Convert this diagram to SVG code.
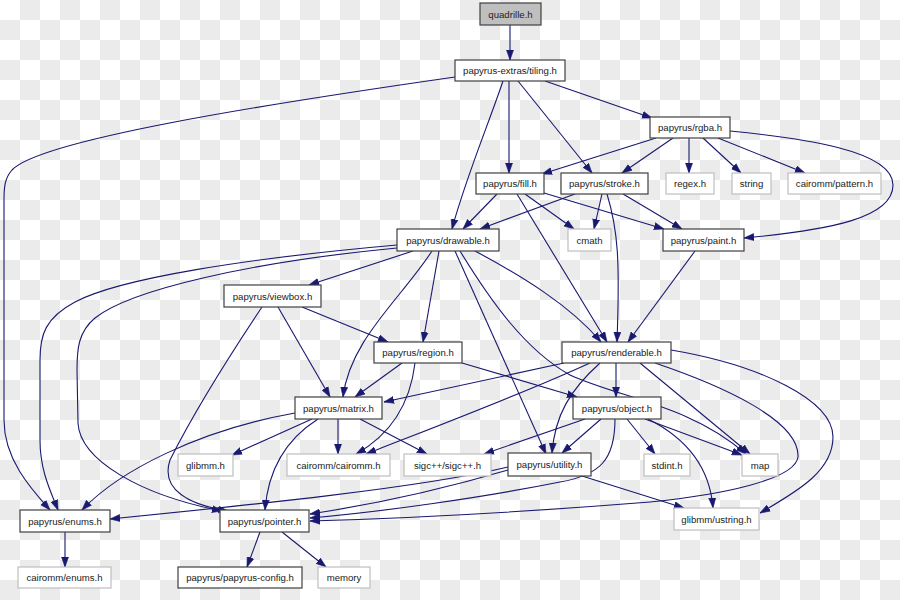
<svg xmlns="http://www.w3.org/2000/svg" width="900" height="600" viewBox="0 0 900 600">
<defs>
<pattern id="cb" width="40" height="40" patternUnits="userSpaceOnUse"><rect width="40" height="40" fill="#fff"/><rect x="20" y="0" width="20" height="20" fill="#ebebeb"/><rect x="0" y="20" width="20" height="20" fill="#ebebeb"/></pattern>
<marker id="ah" markerUnits="userSpaceOnUse" markerWidth="10" markerHeight="8" refX="10" refY="4" orient="auto"><path d="M0,0.5 L10,4 L0,7.5 z" fill="#191970" stroke="#191970" stroke-width="0.6"/></marker>
<style>
.node rect{fill:#fff;stroke:#404040;stroke-width:1.2}
.node.lt rect{stroke:#bfbfbf}
.node.gr rect{fill:#bfbfbf}
.node text{font-family:"Liberation Sans",Arial,sans-serif;font-size:9.6px;text-anchor:middle;fill:#222}
#edges path{fill:none;stroke:#191970;stroke-width:1.1;marker-end:url(#ah)}
</style>
</defs>
<rect width="900" height="600" fill="url(#cb)"/>
<g id="edges">
<path d="M510,25 L510,60"/>
<path d="M455,77 C260,105 40,140 12,170 C5,178 4,186 4,200 L4,420 C4,460 32,490 50,510"/>
<path d="M545,81 L652,118"/>
<path d="M509,81 L509,173"/>
<path d="M518,81 L592,173"/>
<path d="M503,81 C490,120 465,180 452,229"/>
<path d="M656,138 L542,174"/>
<path d="M673,138 L622,173"/>
<path d="M689,138 L689,173"/>
<path d="M703,138 L741,173"/>
<path d="M718,138 L805,173"/>
<path d="M730,131 C800,138 893,150 893,185 C893,218 830,230 744,238"/>
<path d="M497,194 L463,229"/>
<path d="M575,194 L480,229"/>
<path d="M525,194 L574,229"/>
<path d="M602,194 L594,229"/>
<path d="M544,193 L664,229"/>
<path d="M623,194 L682,229"/>
<path d="M517,194 L607,342"/>
<path d="M607,194 C618,230 620,260 617,342"/>
<path d="M695,251 L628,342"/>
<path d="M475,251 C520,275 570,305 601,342"/>
<path d="M413,251 L309,285"/>
<path d="M397,245 C250,258 120,278 75,302 C45,318 40,335 40,360 L40,440 C40,470 50,490 58,510"/>
<path d="M397,248 C250,262 130,290 95,318 C78,332 77,350 77,370 L78,423 C80,460 140,495 222,511"/>
<path d="M432,251 C400,300 350,340 343,397"/>
<path d="M439,251 L423,342"/>
<path d="M455,251 L546,454"/>
<path d="M460,251 C490,300 525,350 570,375 C620,398 690,405 746,454"/>
<path d="M262,307 C230,355 195,410 170,460 C160,490 190,505 228,511"/>
<path d="M278,307 L330,397"/>
<path d="M302,307 L388,342"/>
<path d="M402,363 L355,397"/>
<path d="M415,363 C410,405 390,435 356,454"/>
<path d="M462,363 L577,397"/>
<path d="M564,363 L384,402"/>
<path d="M590,363 C520,395 440,425 366,454"/>
<path d="M600,363 C570,390 555,415 552,453"/>
<path d="M616,363 L616,397"/>
<path d="M640,363 L750,454"/>
<path d="M671,350 C760,365 833,400 833,437 C833,470 800,490 760,513"/>
<path d="M655,363 C720,385 800,420 798,457 C795,480 720,495 650,502 C550,510 420,518 310,521"/>
<path d="M295,413 C200,430 120,470 82,510"/>
<path d="M312,419 L232,455"/>
<path d="M318,419 C285,440 268,470 265,510"/>
<path d="M338,419 L338,454"/>
<path d="M360,419 L427,454"/>
<path d="M585,419 L484,454"/>
<path d="M601,419 L562,453"/>
<path d="M615,419 C615,460 600,475 560,482 C480,498 380,512 310,518"/>
<path d="M627,419 L655,454"/>
<path d="M645,419 L742,455"/>
<path d="M648,419 C690,440 710,470 713,508"/>
<path d="M508,470 C440,490 370,505 310,514"/>
<path d="M582,476 L684,508"/>
<path d="M508,467 C420,488 250,505 110,519"/>
<path d="M260,532 L247,567"/>
<path d="M282,532 L326,567"/>
<path d="M65,532 L65,567"/>
</g>
<g id="quadrille" class="node gr"><rect x="480" y="3" width="61" height="22"/><text x="510.5" y="17.5">quadrille.h</text></g>
<g id="tiling" class="node"><rect x="455" y="60" width="110" height="21"/><text x="510" y="74">papyrus-extras/tiling.h</text></g>
<g id="rgba" class="node"><rect x="650" y="117" width="80" height="21"/><text x="690" y="131">papyrus/rgba.h</text></g>
<g id="fill" class="node"><rect x="476" y="173" width="68" height="21"/><text x="510" y="187">papyrus/fill.h</text></g>
<g id="stroke" class="node"><rect x="561" y="173" width="87" height="21"/><text x="604.5" y="187">papyrus/stroke.h</text></g>
<g id="regex" class="node lt"><rect x="666" y="173" width="48" height="21"/><text x="690" y="187">regex.h</text></g>
<g id="string" class="node lt"><rect x="732" y="173" width="39" height="21"/><text x="751.5" y="187">string</text></g>
<g id="pattern" class="node lt"><rect x="788" y="173" width="93" height="21"/><text x="834.5" y="187">cairomm/pattern.h</text></g>
<g id="drawable" class="node"><rect x="397" y="229" width="102" height="22"/><text x="448" y="243.5">papyrus/drawable.h</text></g>
<g id="cmath" class="node lt"><rect x="568" y="229" width="43" height="22"/><text x="589.5" y="243.5">cmath</text></g>
<g id="paint" class="node"><rect x="663" y="229" width="81" height="22"/><text x="703.5" y="243.5">papyrus/paint.h</text></g>
<g id="viewbox" class="node"><rect x="224" y="285" width="97" height="22"/><text x="272.5" y="299.5">papyrus/viewbox.h</text></g>
<g id="region" class="node"><rect x="374" y="342" width="88" height="21"/><text x="418" y="356">papyrus/region.h</text></g>
<g id="renderable" class="node"><rect x="562" y="342" width="109" height="21"/><text x="616.5" y="356">papyrus/renderable.h</text></g>
<g id="matrix" class="node"><rect x="295" y="397" width="87" height="22"/><text x="338.5" y="411.5">papyrus/matrix.h</text></g>
<g id="object" class="node"><rect x="573" y="397" width="88" height="22"/><text x="617" y="411.5">papyrus/object.h</text></g>
<g id="glibmm" class="node lt"><rect x="178" y="454" width="55" height="22"/><text x="205.5" y="468.5">glibmm.h</text></g>
<g id="cairomm" class="node lt"><rect x="287" y="454" width="103" height="22"/><text x="338.5" y="468.5">cairomm/cairomm.h</text></g>
<g id="sigc" class="node lt"><rect x="404" y="454" width="87" height="22"/><text x="447.5" y="468.5">sigc++/sigc++.h</text></g>
<g id="utility" class="node"><rect x="508" y="453" width="83" height="23"/><text x="549.5" y="468">papyrus/utility.h</text></g>
<g id="stdint" class="node lt"><rect x="644" y="454" width="46" height="22"/><text x="667" y="468.5">stdint.h</text></g>
<g id="map" class="node lt"><rect x="742" y="454" width="36" height="22"/><text x="760" y="468.5">map</text></g>
<g id="enums" class="node"><rect x="20" y="510" width="90" height="22"/><text x="65" y="524.5">papyrus/enums.h</text></g>
<g id="pointer" class="node"><rect x="220" y="510" width="89" height="22"/><text x="264.5" y="524.5">papyrus/pointer.h</text></g>
<g id="ustring" class="node lt"><rect x="674" y="508" width="85" height="22"/><text x="716.5" y="522.5">glibmm/ustring.h</text></g>
<g id="cenums" class="node lt"><rect x="18" y="567" width="93" height="21"/><text x="64.5" y="581">cairomm/enums.h</text></g>
<g id="config" class="node"><rect x="178" y="567" width="124" height="21"/><text x="240" y="581">papyrus/papyrus-config.h</text></g>
<g id="memory" class="node lt"><rect x="318" y="567" width="52" height="21"/><text x="344" y="581">memory</text></g>
</svg>
